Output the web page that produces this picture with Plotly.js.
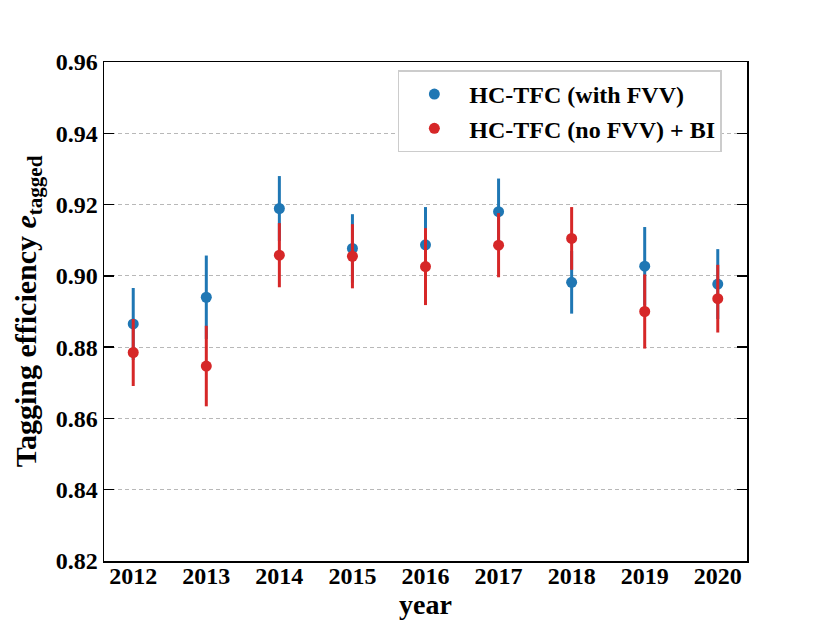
<!DOCTYPE html>
<html>
<head>
<meta charset="utf-8">
<script src="https://cdn.plot.ly/plotly-3.0.1.min.js"></script>
<style>
  body { margin: 0; background: #fff; }
  #graphique { width: 830px; height: 623px; }
</style>
</head>
<body>
<div id="graphique"></div>
<script>
// années
var annees = [2012, 2013, 2014, 2015, 2016, 2017, 2018, 2019, 2020];

// HC-TFC (with FVV)
var effAvecFVV = [0.8865, 0.8940, 0.9189, 0.9077, 0.9087, 0.9180, 0.8982, 0.9027, 0.8977];
var errAvecFVV = [0.0101, 0.0117, 0.0091, 0.0096, 0.0106, 0.0093, 0.0088, 0.0110, 0.0098];

// HC-TFC (no FVV) + BI
var effSansFVV = [0.8785, 0.8747, 0.9058, 0.9055, 0.9026, 0.9086, 0.9105, 0.8900, 0.8936];
var errSansFVV = [0.0094, 0.0113, 0.0090, 0.0090, 0.0108, 0.0090, 0.0088, 0.0104, 0.0095];

var yTicks = [0.82, 0.84, 0.86, 0.88, 0.90, 0.92, 0.94, 0.96];

var police = 'Liberation Serif, Times New Roman, serif';

var traceBleue = {
    x: annees,
    y: effAvecFVV,
    name: 'HC-TFC (with FVV)',
    mode: 'markers',
    type: 'scatter',
    marker: { color: '#1f77b4', size: 11 },
    error_y: { type: 'data', array: errAvecFVV, visible: true, color: '#1f77b4', thickness: 3, width: 0 }
};

var traceRouge = {
    x: annees,
    y: effSansFVV,
    name: 'HC-TFC (no FVV) + BI',
    mode: 'markers',
    type: 'scatter',
    marker: { color: '#d62728', size: 11 },
    error_y: { type: 'data', array: errSansFVV, visible: true, color: '#d62728', thickness: 3, width: 0 }
};

var layout = {
    width: 830,
    height: 623,
    margin: { l: 104, r: 83, t: 62, b: 62 },
    paper_bgcolor: '#ffffff',
    plot_bgcolor: '#ffffff',
    font: { family: police, size: 24, color: '#000', weight: 'bold' },
    xaxis: {
        range: [2011.6, 2020.4],
        tickvals: annees,
        ticktext: annees.map(String),
        ticks: '',
        ticklabelstandoff: -7,
        showgrid: false,
        zeroline: false,
        showline: true,
        linecolor: '#000',
        linewidth: 1.5,
        mirror: true,
        tickfont: { family: police, size: 24, weight: 'bold' },
        title: { text: 'year', font: { family: police, size: 28, weight: 'bold' }, standoff: 6 }
    },
    yaxis: {
        range: [0.82, 0.96],
        tickvals: yTicks,
        ticktext: yTicks.map(function(v) { return v.toFixed(2); }),
        ticks: 'inside',
        ticklen: 10,
        tickwidth: 1.5,
        tickcolor: '#000',
        showgrid: true,
        gridcolor: '#b8b8b8',
        griddash: '4px,3px',
        gridwidth: 1,
        zeroline: false,
        showline: true,
        linecolor: '#000',
        linewidth: 1.5,
        mirror: 'ticks',
        tickfont: { family: police, size: 24, weight: 'bold' },
        title: { text: 'Tagging efficiency <i>e</i><sub>tagged</sub>', font: { family: police, size: 30, weight: 'bold' }, standoff: 10 }
    },
    legend: {
        x: 0.457,
        y: 0.983,
        xanchor: 'left',
        yanchor: 'top',
        bgcolor: '#ffffff',
        bordercolor: '#cccccc',
        borderwidth: 1.5,
        itemwidth: 60,
        font: { family: police, size: 24, weight: 'bold' }
    },
    showlegend: true
};

Plotly.newPlot('graphique', [traceBleue, traceRouge], layout, { displayModeBar: false, staticPlot: true });
</script>
</body>
</html>
